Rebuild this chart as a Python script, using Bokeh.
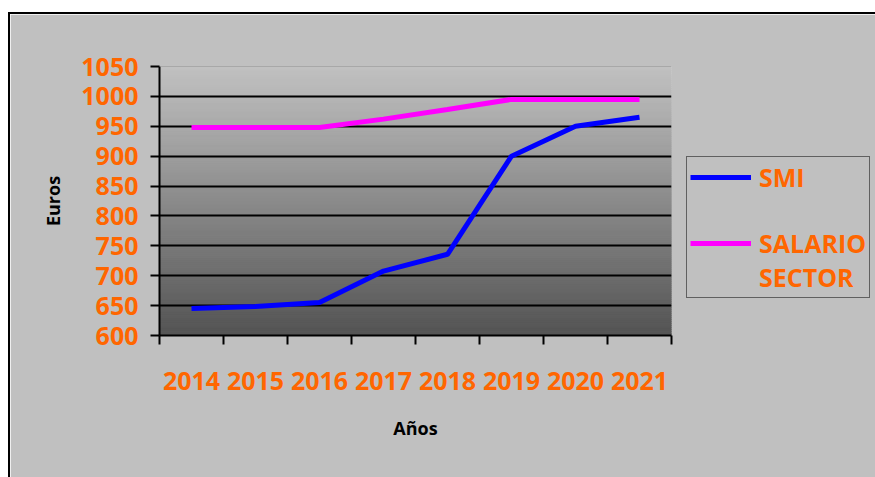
import numpy as np
from bokeh.plotting import figure
from bokeh.models import Range1d, FixedTicker, Span, Legend, LegendItem, ColumnDataSource
from bokeh.embed import file_html
from bokeh.resources import INLINE

years = ["2014", "2015", "2016", "2017", "2018", "2019", "2020", "2021"]
smi = [645.3, 648.6, 655.2, 707.7, 735.9, 900, 950, 965]
salario = [948, 948, 948, 962, 978, 995, 995, 995]
y_ticks = [600, 650, 700, 750, 800, 850, 900, 950, 1000, 1050]

ORANGE = "#ff6600"
FONT = "Open Sans"

xs = [i + 0.5 for i in range(len(years))]
y0, y1 = y_ticks[0], y_ticks[-1]

p = figure(frame_width=512, frame_height=269, output_backend="svg", toolbar_location=None,
           x_range=Range1d(0, len(years)), y_range=Range1d(y0, y1),
           min_border_left=149, min_border_top=52, min_border_right=204,
           min_border_bottom=142, margin=(12, 0, 0, 8))
p.styles = {"border-left": "2px solid black", "border-top": "2px solid black",
            "box-sizing": "border-box"}
p.border_fill_color = "#c0c0c0"
p.background_fill_color = "#c0c0c0"
p.outline_line_color = None

# gradient plot area
n = 135
edges = np.linspace(y0, y1, n + 1)
t = (edges[:-1] + edges[1:]) / 2
frac = (t - y0) / (y1 - y0)
c_top = np.array([194, 194, 194])
c_bot = np.array([84, 84, 84])
cols = ["#%02x%02x%02x" % tuple((c_bot + (c_top - c_bot) * f).astype(int)) for f in frac]
g = p.quad(left=0, right=len(years), bottom=edges[:-1], top=edges[1:], fill_color=cols,
           line_color=cols, line_width=1, level="image")

# grid
p.xgrid.visible = False
p.ygrid.ticker = FixedTicker(ticks=y_ticks[1:-1])
p.ygrid.grid_line_color = "black"
p.ygrid.grid_line_width = 2
p.add_layout(Span(location=y1, dimension="width", line_color="#8a8a8a", line_width=1))

# axes
p.yaxis.ticker = FixedTicker(ticks=y_ticks)
p.yaxis.major_tick_out = 9
p.yaxis.major_tick_in = 0
p.yaxis.minor_tick_out = 0
p.yaxis.minor_tick_in = 0
p.yaxis.axis_line_width = 2
p.yaxis.major_tick_line_width = 2
p.yaxis.major_label_text_color = ORANGE
p.yaxis.major_label_text_font = FONT
p.yaxis.major_label_text_font_style = "bold"
p.yaxis.major_label_text_font_size = "25px"
p.yaxis.major_label_standoff = 12
p.yaxis.axis_label = "Euros"
p.yaxis.axis_label_text_font = FONT
p.yaxis.axis_label_text_font_style = "bold"
p.yaxis.axis_label_text_font_size = "18px"
p.yaxis.axis_label_text_color = "black"
p.yaxis.axis_label_standoff = 13

p.xaxis.ticker = FixedTicker(ticks=xs, minor_ticks=list(range(len(years) + 1)))
p.xaxis.major_label_overrides = {x: y for x, y in zip(xs, years)}
p.xaxis.major_tick_out = 0
p.xaxis.major_tick_in = 0
p.xaxis.minor_tick_out = 9
p.xaxis.minor_tick_in = 0
p.xaxis.minor_tick_line_width = 2
p.xaxis.axis_line_width = 2
p.xaxis.major_label_text_color = ORANGE
p.xaxis.major_label_text_font = FONT
p.xaxis.major_label_text_font_style = "bold"
p.xaxis.major_label_text_font_size = "25px"
p.xaxis.major_label_standoff = 27
p.xaxis.axis_label = "Años"
p.xaxis.axis_label_text_font = FONT
p.xaxis.axis_label_text_font_style = "bold"
p.xaxis.axis_label_text_font_size = "18px"
p.xaxis.axis_label_text_color = "black"
p.xaxis.axis_label_standoff = 23

src = ColumnDataSource(dict(x=xs, smi=smi, salario=salario))
r1 = p.line("x", "smi", source=src, line_color="#0000ff", line_width=5)
r2 = p.line("x", "salario", source=src, line_color="#ff00ff", line_width=5)
# invisible renderer used only to lay out the legend rows
blank = p.line(x=[], y=[], line_alpha=0)

legend = Legend(items=[LegendItem(label="SMI", renderers=[r1]),
                       LegendItem(label=" ", renderers=[blank]),
                       LegendItem(label="SALARIO", renderers=[r2]),
                       LegendItem(label="SECTOR", renderers=[blank])],
                location=(15, 37), orientation="vertical")
legend.label_text_color = ORANGE
legend.label_text_font = FONT
legend.label_text_font_style = "bold"
legend.label_text_font_size = "25px"
legend.glyph_width = 61
legend.glyph_height = 32
legend.label_height = 32
legend.label_standoff = 8
legend.padding = 3
legend.spacing = 0
legend.border_line_color = "black"
legend.border_line_width = 1
legend.background_fill_color = "#c0c0c0"
legend.background_fill_alpha = 1
legend.margin = 0
p.add_layout(legend, "right")

open("out.html", "w").write(file_html(p, INLINE))
